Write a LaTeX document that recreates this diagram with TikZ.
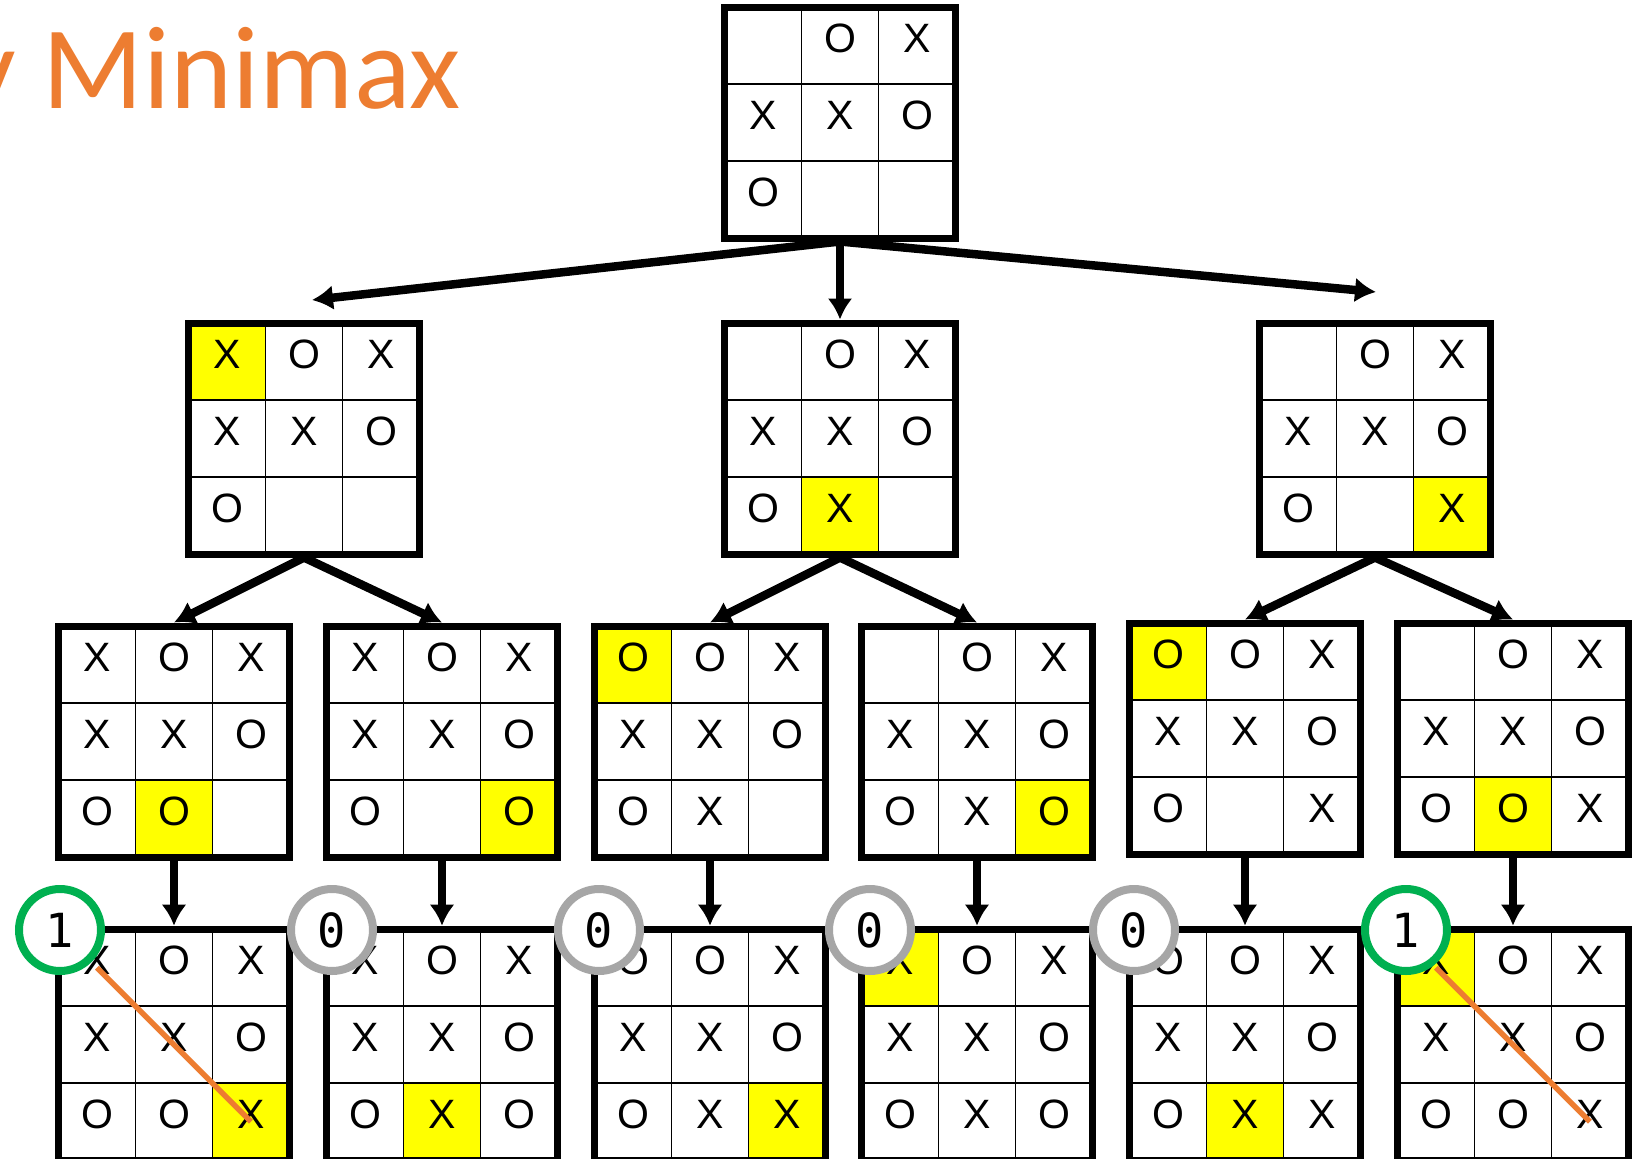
\documentclass[tikz,border=0pt]{standalone}
\usepackage{fontspec}
\setmainfont{Liberation Sans}
\newfontfamily\scorefont{DejaVu Sans Mono}
\newfontfamily\headfont{Carlito}
\usetikzlibrary{arrows.meta}
\definecolor{headorange}{HTML}{ED7D31}
\definecolor{wingreen}{HTML}{00B050}
\definecolor{drawgray}{HTML}{A6A6A6}
\definecolor{markyellow}{HTML}{FFFF00}
\tikzset{
  cell/.style={draw, line width=1.5pt, minimum size=77pt, inner sep=0pt,
    text height=29pt, text depth=15pt, font=\fontsize{41}{48}\selectfont},
  board/.style={draw, line width=7pt, minimum size=231pt, inner sep=0pt},
  score/.style={circle, draw, fill=white, line width=8pt, minimum size=82pt,
    inner sep=0pt, font=\scorefont\fontsize{47}{47}\selectfont},
  movearrow/.style={-{Latex[length=21pt,width=25pt]}, line width=8.5pt},
  winline/.style={headorange, line width=5.5pt},
}
% one board: name, centre, marks row by row, yellow cell (-1 for none)
\newcommand\tttboard[4]{%
  \begin{scope}[shift={(#2)}]
    \foreach \m [count=\i from 0] in {#3} {
      \pgfmathtruncatemacro\row{\i/3}
      \pgfmathtruncatemacro\col{\i-3*\row}
      \ifnum\i=#4\relax \def\cellfill{markyellow}\else\def\cellfill{white}\fi
      \node[cell, fill=\cellfill] (#1-\i) at ({(\col-1)*77},{(\row-1)*77}) {\m};
    }
    \node[board] (#1) at (0,0) {};
  \end{scope}
}
\begin{document}
\begin{tikzpicture}[x=1pt,y=-1pt]
    \useasboundingbox (0,0) rectangle (1644,1159);
    \clip (0,0) rectangle (1644,1159);
    \fill[white] (0,0) rectangle (1644,1159);

    \node[font=\headfont\fontsize{118}{118}\selectfont, text=headorange,
      anchor=base east, inner sep=0pt] (title) at (461,108) {y Minimax};

    % root
    \tttboard{l1}{840,122.5}{{},O,X,X,X,O,O,{},{}}{-1}
    % first move
    \tttboard{l2a}{304,438.5}{X,O,X,X,X,O,O,{},{}}{0}
    \tttboard{l2b}{840,438.5}{{},O,X,X,X,O,O,X,{}}{7}
    \tttboard{l2c}{1375,438.5}{{},O,X,X,X,O,O,{},X}{8}
    % reply
    \tttboard{l3a}{174,741.5}{X,O,X,X,X,O,O,O,{}}{7}
    \tttboard{l3b}{442,741.5}{X,O,X,X,X,O,O,{},O}{8}
    \tttboard{l3c}{710,741.5}{O,O,X,X,X,O,O,X,{}}{0}
    \tttboard{l3d}{977,741.5}{{},O,X,X,X,O,O,X,O}{8}
    \tttboard{l3e}{1245,738.5}{O,O,X,X,X,O,O,{},X}{0}
    \tttboard{l3f}{1513,738.5}{{},O,X,X,X,O,O,O,X}{7}
    % last move
    \tttboard{l4a}{174,1044.7}{X,O,X,X,X,O,O,O,X}{8}
    \tttboard{l4b}{442,1044.7}{X,O,X,X,X,O,O,X,O}{7}
    \tttboard{l4c}{710,1044.7}{O,O,X,X,X,O,O,X,X}{8}
    \tttboard{l4d}{977,1044.7}{X,O,X,X,X,O,O,X,O}{0}
    \tttboard{l4e}{1245,1044.7}{O,O,X,X,X,O,O,X,X}{7}
    \tttboard{l4f}{1513,1044.7}{X,O,X,X,X,O,O,O,X}{0}

    \coordinate (tipa) at (312,300);
    \coordinate (tipc) at (1376,292);
    \draw[movearrow] (l1.south) -- (tipa);
    \draw[movearrow] (l1.south) -- (l2b.north);
    \draw[movearrow] (l1.south) -- (tipc);

    \draw[movearrow] (l2a.south) -- (l3a.north);
    \draw[movearrow] (l2a.south) -- (l3b.north);
    \draw[movearrow] (l2b.south) -- (l3c.north);
    \draw[movearrow] (l2b.south) -- (l3d.north);
    \draw[movearrow] (l2c.south) -- (l3e.north);
    \draw[movearrow] (l2c.south) -- (l3f.north);

    \draw[movearrow] (l3a.south) -- (l4a.north);
    \draw[movearrow] (l3b.south) -- (l4b.north);
    \draw[movearrow] (l3c.south) -- (l4c.north);
    \draw[movearrow] (l3d.south) -- (l4d.north);
    \draw[movearrow] (l3e.south) -- (l4e.north);
    \draw[movearrow] (l3f.south) -- (l4f.north);

    \draw[winline] (l4a-0.center) -- (l4a-8.center);
    \draw[winline] (l4f-0.center) -- (l4f-8.center);

    \node[score, draw=wingreen] (sa) at (60,930) {1};
    \node[score, draw=drawgray] (sb) at (332,930) {0};
    \node[score, draw=drawgray] (sc) at (599,930) {0};
    \node[score, draw=drawgray] (sd) at (870,930) {0};
    \node[score, draw=drawgray] (se) at (1134,930) {0};
    \node[score, draw=wingreen] (sf) at (1406,930) {1};

\end{tikzpicture}
\end{document}
